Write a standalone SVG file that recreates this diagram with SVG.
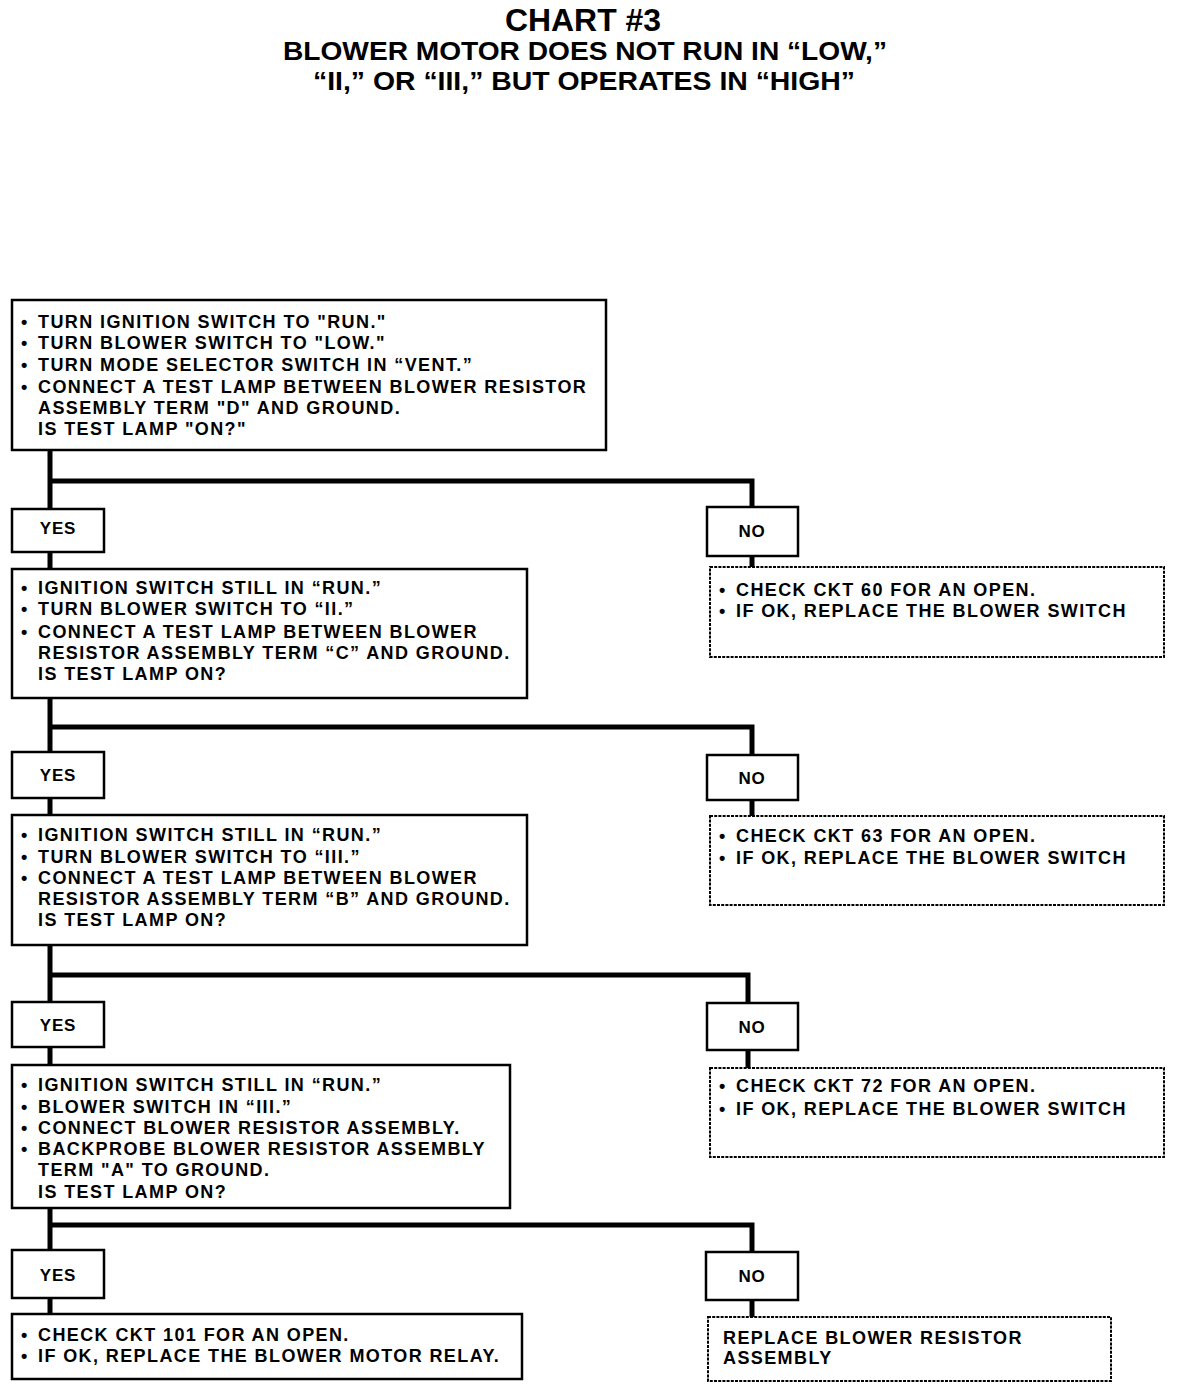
<svg xmlns="http://www.w3.org/2000/svg" width="1184" height="1390" viewBox="0 0 1184 1390">
<style>
.t{font-family:"Liberation Sans",Arial,sans-serif;font-weight:bold;fill:#000}
.title{font-size:31px}
.sub{font-size:25px}
.bx{font-size:18px;letter-spacing:1.4px}
.lb{font-size:17px;letter-spacing:0.8px;text-anchor:middle}
.box{fill:#fff;stroke:#000;stroke-width:2.5}
.dbox{fill:#fff;stroke:#000;stroke-width:2;stroke-dasharray:3 1.2}
.con{fill:none;stroke:#000;stroke-width:5;stroke-linejoin:miter}
</style>
<rect width="1184" height="1390" fill="#fff"/>
<g id="title">
<text class="t title" x="505" y="31" textLength="156" lengthAdjust="spacingAndGlyphs">CHART #3</text>
<text class="t sub" x="283" y="60" textLength="604" lengthAdjust="spacingAndGlyphs">BLOWER MOTOR DOES NOT RUN IN “LOW,”</text>
<text class="t sub" x="313" y="90" textLength="542" lengthAdjust="spacingAndGlyphs">“II,” OR “III,” BUT OPERATES IN “HIGH”</text>
</g>
<g id="connectors">
<path class="con" d="M50 450 V509 M50 481 H752 V507 M50 552 V569 M752 556 V567"/>
<path class="con" d="M50 698 V752 M50 727 H752 V755 M50 798 V815 M752 800 V816"/>
<path class="con" d="M50 945 V1002 M50 975 H748 V1003 M50 1047 V1065 M748 1050 V1068"/>
<path class="con" d="M50 1208 V1250 M50 1225 H752 V1252 M50 1298 V1314 M752 1300 V1317"/>
</g>
<g id="step1">
<rect class="box" x="12" y="300" width="594" height="150"/>
<text class="t bx" y="328"><tspan x="21">•</tspan><tspan x="38">TURN IGNITION SWITCH TO "RUN."</tspan></text>
<text class="t bx" y="349"><tspan x="21">•</tspan><tspan x="38">TURN BLOWER SWITCH TO "LOW."</tspan></text>
<text class="t bx" y="371"><tspan x="21">•</tspan><tspan x="38">TURN MODE SELECTOR SWITCH IN “VENT.”</tspan></text>
<text class="t bx" y="393"><tspan x="21">•</tspan><tspan x="38">CONNECT A TEST LAMP BETWEEN BLOWER RESISTOR</tspan></text>
<text class="t bx" x="38" y="414">ASSEMBLY TERM "D" AND GROUND.</text>
<text class="t bx" x="38" y="435">IS TEST LAMP "ON?"</text>
</g>
<g id="yes1"><rect class="box" x="12" y="509" width="92" height="43"/><text class="t lb" x="58" y="534">YES</text></g>
<g id="no1"><rect class="box" x="707" y="507" width="91" height="49"/><text class="t lb" x="752" y="537">NO</text></g>
<g id="step2">
<rect class="box" x="12" y="569" width="515" height="129"/>
<text class="t bx" y="594"><tspan x="21">•</tspan><tspan x="38">IGNITION SWITCH STILL IN “RUN.”</tspan></text>
<text class="t bx" y="615"><tspan x="21">•</tspan><tspan x="38">TURN BLOWER SWITCH TO “II.”</tspan></text>
<text class="t bx" y="638"><tspan x="21">•</tspan><tspan x="38">CONNECT A TEST LAMP BETWEEN BLOWER</tspan></text>
<text class="t bx" x="38" y="659">RESISTOR ASSEMBLY TERM “C” AND GROUND.</text>
<text class="t bx" x="38" y="680">IS TEST LAMP ON?</text>
</g>
<g id="fix1">
<rect class="dbox" x="710" y="567" width="454" height="90"/>
<text class="t bx" y="596"><tspan x="719">•</tspan><tspan x="736">CHECK CKT 60 FOR AN OPEN.</tspan></text>
<text class="t bx" y="617"><tspan x="719">•</tspan><tspan x="736">IF OK, REPLACE THE BLOWER SWITCH</tspan></text>
</g>
<g id="yes2"><rect class="box" x="12" y="752" width="92" height="46"/><text class="t lb" x="58" y="781">YES</text></g>
<g id="no2"><rect class="box" x="707" y="755" width="91" height="45"/><text class="t lb" x="752" y="784">NO</text></g>
<g id="step3">
<rect class="box" x="12" y="815" width="515" height="130"/>
<text class="t bx" y="841"><tspan x="21">•</tspan><tspan x="38">IGNITION SWITCH STILL IN “RUN.”</tspan></text>
<text class="t bx" y="863"><tspan x="21">•</tspan><tspan x="38">TURN BLOWER SWITCH TO “III.”</tspan></text>
<text class="t bx" y="884"><tspan x="21">•</tspan><tspan x="38">CONNECT A TEST LAMP BETWEEN BLOWER</tspan></text>
<text class="t bx" x="38" y="905">RESISTOR ASSEMBLY TERM “B” AND GROUND.</text>
<text class="t bx" x="38" y="926">IS TEST LAMP ON?</text>
</g>
<g id="fix2">
<rect class="dbox" x="710" y="816" width="454" height="89"/>
<text class="t bx" y="842"><tspan x="719">•</tspan><tspan x="736">CHECK CKT 63 FOR AN OPEN.</tspan></text>
<text class="t bx" y="864"><tspan x="719">•</tspan><tspan x="736">IF OK, REPLACE THE BLOWER SWITCH</tspan></text>
</g>
<g id="yes3"><rect class="box" x="12" y="1002" width="92" height="45"/><text class="t lb" x="58" y="1031">YES</text></g>
<g id="no3"><rect class="box" x="707" y="1003" width="91" height="47"/><text class="t lb" x="752" y="1033">NO</text></g>
<g id="step4">
<rect class="box" x="12" y="1065" width="498" height="143"/>
<text class="t bx" y="1091"><tspan x="21">•</tspan><tspan x="38">IGNITION SWITCH STILL IN “RUN.”</tspan></text>
<text class="t bx" y="1113"><tspan x="21">•</tspan><tspan x="38">BLOWER SWITCH IN “III.”</tspan></text>
<text class="t bx" y="1134"><tspan x="21">•</tspan><tspan x="38">CONNECT BLOWER RESISTOR ASSEMBLY.</tspan></text>
<text class="t bx" y="1155"><tspan x="21">•</tspan><tspan x="38">BACKPROBE BLOWER RESISTOR ASSEMBLY</tspan></text>
<text class="t bx" x="38" y="1176">TERM "A" TO GROUND.</text>
<text class="t bx" x="38" y="1198">IS TEST LAMP ON?</text>
</g>
<g id="fix3">
<rect class="dbox" x="710" y="1068" width="454" height="89"/>
<text class="t bx" y="1092"><tspan x="719">•</tspan><tspan x="736">CHECK CKT 72 FOR AN OPEN.</tspan></text>
<text class="t bx" y="1115"><tspan x="719">•</tspan><tspan x="736">IF OK, REPLACE THE BLOWER SWITCH</tspan></text>
</g>
<g id="yes4"><rect class="box" x="12" y="1250" width="92" height="48"/><text class="t lb" x="58" y="1281">YES</text></g>
<g id="no4"><rect class="box" x="706" y="1252" width="92" height="48"/><text class="t lb" x="752" y="1282">NO</text></g>
<g id="fix4">
<rect class="box" x="12" y="1314" width="510" height="65"/>
<text class="t bx" y="1341"><tspan x="21">•</tspan><tspan x="38">CHECK CKT 101 FOR AN OPEN.</tspan></text>
<text class="t bx" y="1362"><tspan x="21">•</tspan><tspan x="38">IF OK, REPLACE THE BLOWER MOTOR RELAY.</tspan></text>
</g>
<g id="fix5">
<rect class="dbox" x="708" y="1317" width="403" height="64"/>
<text class="t bx" x="723" y="1344">REPLACE BLOWER RESISTOR</text>
<text class="t bx" x="723" y="1364">ASSEMBLY</text>
</g>
</svg>
